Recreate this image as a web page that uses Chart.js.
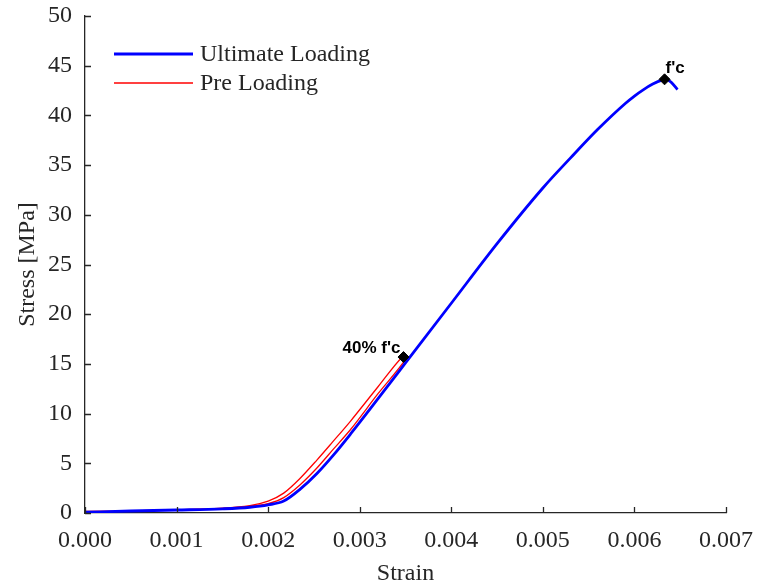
<!DOCTYPE html>
<html>
<head>
<meta charset="utf-8">
<script src="https://cdn.jsdelivr.net/npm/chart.js@4"></script>
<style>
  html, body { margin: 0; padding: 0; background: #fff; }
</style>
</head>
<body>
<canvas id="chart" width="757" height="588"></canvas>
<script>
// Stress-strain data
const ultimateStrain = [0, 0.0005, 0.001, 0.0015, 0.0018, 0.002, 0.00217, 0.00235, 0.00253, 0.00271, 0.0029, 0.0032, 0.0035, 0.004, 0.0045, 0.005, 0.0053, 0.0056, 0.0059, 0.006, 0.0061, 0.0062, 0.0063, 0.00634, 0.0064, 0.00647];
const ultimateStress = [0.08, 0.2, 0.3, 0.42, 0.58, 0.82, 1.2, 2.4, 3.95, 5.8, 7.95, 11.5, 15.1, 21.1, 27.1, 32.7, 35.7, 38.6, 41.2, 41.95, 42.6, 43.15, 43.55, 43.62, 43.35, 42.6];

// pre loading cycle: loading branch then unloading branch
const preStrain = [0, 0.0005, 0.001, 0.0015, 0.0018, 0.002, 0.00217, 0.00235, 0.00253, 0.0027, 0.0029, 0.0032, 0.00346,
                   0.0035, 0.0032, 0.0029, 0.00271, 0.00253, 0.00235, 0.00217, 0.002, 0.0018, 0.0015, 0.001, 0.0005, 0];
const preStress = [0.15, 0.22, 0.32, 0.5, 0.75, 1.2, 2.0, 3.5, 5.3, 7.1, 9.25, 12.7, 15.65,
                   15.45, 12.0, 8.4, 6.4, 4.5, 2.85, 1.55, 0.95, 0.65, 0.45, 0.3, 0.2, 0.12];

const markerStrain = [0.003478, 0.006329];
const markerStress = [15.69, 43.63];
const markerLabels = ["40% f'c", "f'c"];

const xTicks = [0, 0.001, 0.002, 0.003, 0.004, 0.005, 0.006, 0.007];
const yTicks = [0, 5, 10, 15, 20, 25, 30, 35, 40, 45, 50];

const toPoints = (xs, ys) => xs.map((x, i) => ({ x, y: ys[i] }));

const axisColor = '#262626';
const serif = "'Liberation Serif', 'Times New Roman', serif";

// inward tick marks along both axes
const innerTicks = {
  id: 'innerTicks',
  afterDraw(chart) {
    const { ctx, chartArea, scales } = chart;
    ctx.save();
    ctx.strokeStyle = axisColor;
    ctx.lineWidth = 1.3;
    ctx.beginPath();
    xTicks.forEach(v => {
      const px = Math.round(scales.x.getPixelForValue(v)) + 0.5;
      ctx.moveTo(px, chartArea.bottom);
      ctx.lineTo(px, chartArea.bottom - 6);
    });
    yTicks.forEach(v => {
      const py = Math.round(scales.y.getPixelForValue(v)) + 0.5;
      ctx.moveTo(chartArea.left, py);
      ctx.lineTo(chartArea.left + 6, py);
    });
    ctx.stroke();
    ctx.restore();
  }
};

// text beside the diamond markers
const markerText = {
  id: 'markerText',
  afterDatasetsDraw(chart) {
    const { ctx, scales } = chart;
    const place = [
      { align: 'right', dx: -3, dy: -4 },
      { align: 'left', dx: 1, dy: -6 }
    ];
    ctx.save();
    ctx.fillStyle = '#000';
    ctx.font = "bold 17px 'Liberation Sans', Arial, sans-serif";
    ctx.textBaseline = 'alphabetic';
    markerLabels.forEach((txt, i) => {
      const px = scales.x.getPixelForValue(markerStrain[i]);
      const py = scales.y.getPixelForValue(markerStress[i]);
      ctx.textAlign = place[i].align;
      ctx.fillText(txt, px + place[i].dx, py + place[i].dy);
    });
    ctx.restore();
  }
};

// legend box in the upper left of the plot
const insideLegend = {
  id: 'insideLegend',
  afterDraw(chart) {
    const { ctx, chartArea } = chart;
    const items = chart.data.datasets.filter(d => d.label);
    ctx.save();
    ctx.font = '24px ' + serif;
    ctx.textBaseline = 'middle';
    ctx.textAlign = 'left';
    items.forEach((d, i) => {
      const y = chartArea.top + 38 + i * 29;
      const x0 = chartArea.left + 29;
      ctx.strokeStyle = d.borderColor;
      ctx.lineWidth = d.borderWidth;
      ctx.beginPath();
      ctx.moveTo(x0, y);
      ctx.lineTo(x0 + 79, y);
      ctx.stroke();
      ctx.fillStyle = axisColor;
      ctx.fillText(d.label, x0 + 86, y + 1);
    });
    ctx.restore();
  }
};

new Chart(document.getElementById('chart'), {
  type: 'scatter',
  data: {
    datasets: [
      {
        label: 'Ultimate Loading',
        data: toPoints(ultimateStrain, ultimateStress),
        showLine: true,
        borderColor: '#0000ff',
        borderWidth: 2.8,
        pointRadius: 0,
        cubicInterpolationMode: 'monotone',
        order: 1
      },
      {
        label: 'Pre Loading',
        data: toPoints(preStrain, preStress),
        showLine: true,
        borderColor: '#ff0000',
        borderWidth: 1.3,
        pointRadius: 0,
        tension: 0.3,
        order: 2
      },
      {
        data: toPoints(markerStrain, markerStress),
        pointStyle: 'rectRot',
        pointRadius: 5.5,
        backgroundColor: '#000',
        borderColor: '#000',
        order: 0
      }
    ]
  },
  options: {
    responsive: false,
    animation: false,
    layout: { padding: { top: 16, right: 31, left: 0, bottom: 0 } },
    plugins: {
      legend: { display: false },
      tooltip: { enabled: false }
    },
    scales: {
      x: {
        type: 'linear',
        min: 0,
        max: 0.007,
        afterFit: s => { s.height = 75; s.paddingLeft = 0; s.paddingRight = 0; },
        afterBuildTicks: s => { s.ticks = xTicks.map(v => ({ value: v })); },
        grid: { display: false, drawTicks: false },
        border: { display: true, color: axisColor, width: 1.3 },
        ticks: {
          padding: 13,
          color: axisColor,
          font: { family: serif, size: 24 },
          maxRotation: 0,
          callback: v => v.toFixed(3)
        },
        title: {
          display: true,
          text: 'Strain',
          color: axisColor,
          font: { family: serif, size: 24 },
          padding: { top: -2, bottom: 0 }
        }
      },
      y: {
        type: 'linear',
        min: 0,
        max: 50,
        afterFit: s => { s.width = 85; s.paddingTop = 0; s.paddingBottom = 0; },
        afterBuildTicks: s => { s.ticks = yTicks.map(v => ({ value: v })); },
        grid: { display: false, drawTicks: false },
        border: { display: true, color: axisColor, width: 1.3 },
        ticks: {
          padding: 13,
          color: axisColor,
          font: { family: serif, size: 24 }
        },
        title: {
          display: true,
          text: 'Stress [MPa]',
          color: axisColor,
          font: { family: serif, size: 24 },
          padding: { top: 13, bottom: 0 }
        }
      }
    }
  },
  plugins: [innerTicks, markerText, insideLegend]
});
</script>
</body>
</html>
